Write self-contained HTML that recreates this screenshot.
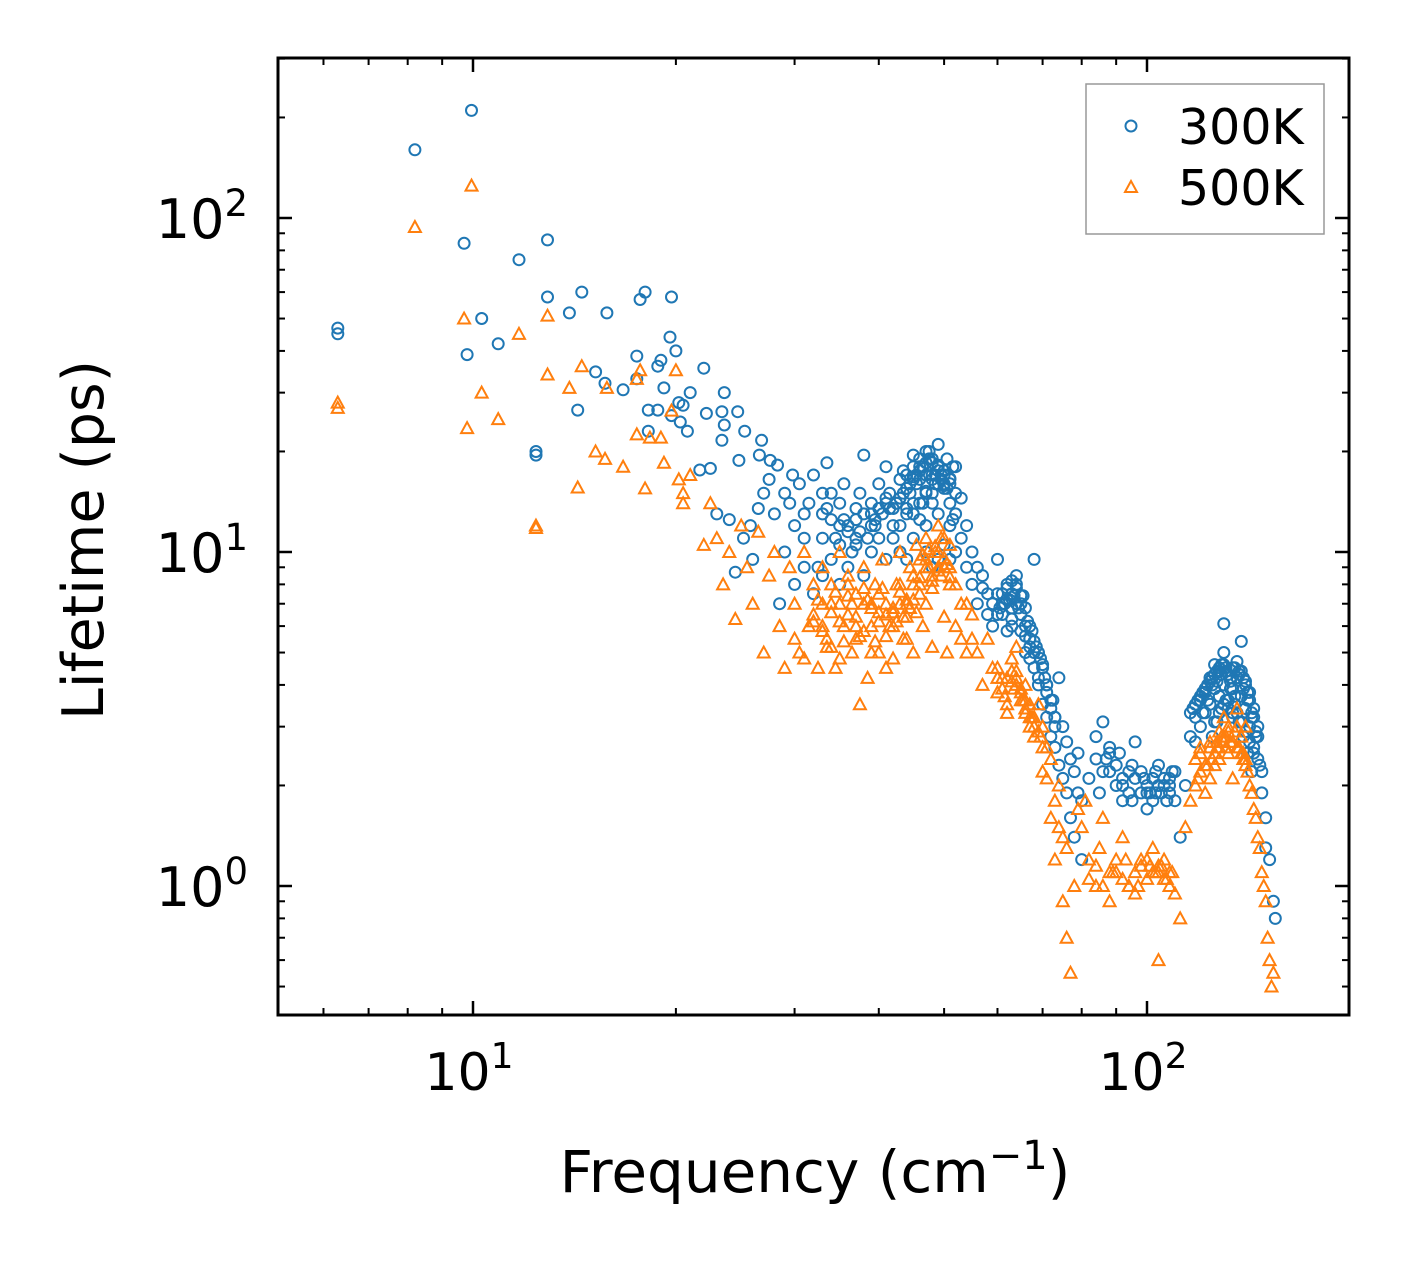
<!DOCTYPE html>
<html><head><meta charset="utf-8"><style>
html,body{margin:0;padding:0;background:#fff;}
svg text{font-family:"DejaVu Sans","Liberation Sans",sans-serif;fill:#000;}
</style></head><body>
<svg id="chart" width="1408" height="1265" viewBox="0 0 1408 1265" xmlns="http://www.w3.org/2000/svg">
<rect x="0" y="0" width="1408" height="1265" fill="#fff"/>
<g id="marks"></g>
<g id="axes"></g>
<rect x="278" y="58" width="1071" height="957" fill="none" stroke="#000" stroke-width="3"/>
<text x="815" y="1192" font-size="58" text-anchor="middle">Frequency (cm<tspan dy="-23" font-size="40">−1</tspan><tspan dy="23">)</tspan></text>
<text x="0" y="0" font-size="57" text-anchor="middle" transform="translate(103,540) rotate(-90)">Lifetime (ps)</text>
<g>
<rect x="1086" y="84" width="238" height="150" fill="#fff" stroke="#999" stroke-width="1.5"/>
<circle cx="1131" cy="126" r="5.5" fill="none" stroke="#1f77b4" stroke-width="2"/>
<text x="1178" y="144" font-size="49">300K</text>
<polygon points="1131,181 1137,192 1125,192" fill="none" stroke="#ff7f0e" stroke-width="2"/>
<text x="1178" y="205" font-size="49">500K</text>
</g>
</svg>
<script>
const xTickValues = [10, 100];
const yTickValues = [1, 10, 100];
const xTickLabels = ["1", "2"];
const yTickLabels = ["0", "1", "2"];
const blueFreq = [6.3,6.3,8.2,9.95,9.7,9.8,10.3,10.9,11.7,12.9,12.9,12.4,12.4,13.9,14.5,14.3,15.8,15.2,15.7,16.7,17.7,18,17.5,17.5,18.2,18.8,18.2,18.8,19,19.2,19.6,19.7,20,19.7,20.2,20.5,21,20.3,20.8,22,22.2,21.7,22.5,23.6,23.4,23.6,23.4,24.7,25.3,24.8,26.6,26.8,27.6,28.3,23,24,24.5,25.2,25.8,26,26.5,27,27.5,28,28.5,29,29.5,29.8,30,30.5,31,31.5,32,32.5,33,33.5,34,34.5,35,35.5,36,36.5,37,37.5,38,38.5,39,39.5,40,40.5,41,41.5,42,42.5,43,43.5,44,44.5,45,45.5,46,46.5,47,47.5,48,48.5,49,49.5,50,50.5,51,51.5,52,53,54,55,56,57,58,59,60,61,62,63,64,65,66,67,68,69,70,71,72,73,74,75,76,77,78,79,80,80,82,84,86,88,90,92,94,96,98,100,102,104,106,108,110,112,114,116,118,120,122,124,126,128,130,130,132,134,136,138,140,142,144,146,148,150,152,154,155,
30,31,32,33,34,35,36,37,38,39,40,41,42,43,44,45,46,47,48,49,50,51,52,53,54,55,56,57,58,59,60,61,62,63,64,65,66,67,68,69,70,71,72,73,74,75,76,77,78,79,85,88,92,95,100,105,108,118,120,122,124,126,128,130,132,134,136,138,140,142,144,146,148,150,45,46,47,48,49,50,44,43,46,48,
29,31,33,35,37,39,41,43,45,47,49,51,61,63,65,67,69,71,73,101,103,107,109,121,123,125,127,129,131,133,135,137,139,141,143,145,147,125,127,129,131,133,135,137,139,141,143,62,63,64,65,66,67,68,44,45,46,47,48,49,50,51,
42,43,44,45,46,47,48,49,50,51,52,42.5,43.5,44.5,45.5,46.5,47.5,48.5,49.5,50.5,51.5,44,46,48,50,52,45,47,49,51,
33,34,35,36,37,38,39,40,41,33.5,35.5,37.5,39.5,41.5,
60,61,62,63,64,65,66,67,68,69,70,71,72,73,60.5,62.5,64.5,66.5,68.5,70.5,72.5,61.5,63.5,65.5,67.5,69.5,
84,86,88,90,92,94,96,98,100,102,104,106,108,110,87,91,95,99,103,107,
116,118,120,122,124,126,128,130,132,134,136,138,140,142,144,146,117,119,121,123,125,127,129,131,133,135,137,139,141,143,145,126,128,130,132,134,136,138,140,142,144];
const blueTau = [46.8,45,160,210,84,39,50,42,75,86,58,20,19.5,52,60,26.6,52,34.6,32,30.6,57,60,38.6,33,26.6,26.6,23,36,37.5,31,44,58,40,25.6,28,27.5,30,24.5,23,35.5,26,17.6,17.8,30,26.3,24,21.6,26.3,23,18.8,19.5,21.6,18.8,18.2,13,12.5,8.7,11,12,9.5,13.5,15,16.5,13,7,10,14,17,12,16,11,14,17,9,13,18.5,15,11,14,16,12,10,13.5,15,19.5,11,14,12.5,16,13,18,15,11,14,16.5,17.5,13,15,18,16,19,14,17,20,18.5,16,21,17,15.5,19,14,18,13,14.5,12,10,9,8.5,7.5,7,9.5,6.5,8,7.5,8.5,7,6,5.5,9.5,5,4.5,4,3.6,3.2,4.2,3,2.7,2.4,2.2,2.5,1.8,1.2,2.1,2.8,3.1,2.5,2,1.8,2.2,2.7,1.9,2,2.1,2.3,2,1.9,1.8,1.4,2,2.8,3.2,3.6,3.8,4.2,4.6,4.4,5,6.1,4.3,3.9,4.7,5.4,4,3.6,3.2,2.8,2.2,1.6,1.2,0.9,0.8,
8,9,7.5,8.5,9.5,8,9,10.5,8.5,10,11,9.5,12,10,9.5,11,12.5,10,9,9.5,10.5,9.5,10,11,9,8,7,7.8,6.5,6,6.5,7.5,5.8,6.3,7,6.5,5,4.8,4.5,4,3.5,3.2,2.8,2.6,2.3,2.1,1.9,1.6,1.4,1.9,1.9,2.2,2.1,1.8,1.7,1.9,2.1,2.7,3,3.3,3.5,3.9,3.7,4,3.6,3.3,4.2,3.7,3.4,3,2.6,2.4,1.9,1.3,14,16.5,15,14,16,17,17,14.5,17.5,16.5,
15,13,15,12,11,13,14,12,13,12,13,12,7,6,5.8,5.5,4.2,3.8,3,1.9,2.2,1.8,2.2,3.3,3.6,4,4.1,4.3,4.5,4.1,3.7,4.4,4.2,3.8,3.3,2.9,2.3,2.8,3.1,3.4,3.6,3.9,3.5,3.1,2.8,2.5,2.2,7.2,6.8,7.8,7.4,5.6,5.2,5.0,15.5,16.8,18,15.2,17,18.2,15.8,16.6,
13.5,14.5,15.5,16.5,17.5,18.5,19,18,17.5,16.5,15,14,15,16,17,18,19,17,16.5,15.5,12.5,13.5,14,15,16,18,19.5,20,17.5,16,
11,12.5,10.5,11.5,12.5,13,12,13.5,14.5,13.5,12.5,11.5,12,13.5,
7.5,7,7.8,8.2,8,7.4,6.8,6,5.4,5,4.6,4,3.4,3.2,6.8,7.2,6.8,6.2,5.2,4.2,3.6,7,7.4,7.4,5.8,4.8,
2.4,2.2,2.6,2.3,2,1.9,2.1,2.2,1.9,1.8,2,2.1,2,2.2,2.4,2.5,2.3,2.1,1.9,1.8,
3.3,3.5,3.7,3.9,4.1,4.3,4.5,4.6,4.3,4.5,4.2,4.4,4.1,3.8,3.4,3,3.4,3.6,3.8,4,4.2,4.4,4.6,4.4,4.2,4.5,4.3,3.9,3.6,3.2,2.8,3.1,3.3,3.5,3.4,3.2,3.3,3.1,2.9,2.7,2.5];
const orangeFreq = [6.3,6.3,8.2,9.95,9.7,9.8,10.3,10.9,11.7,12.9,12.4,12.4,12.9,13.9,14.5,14.3,15.2,15.8,15.7,16.7,17.5,17.5,17.7,18,18.3,19,19.2,19.7,20,20.2,20.5,20.5,21,
22,22.5,23,23.5,24,24.5,25,25.5,26,26.5,27,27.5,28,28.5,29,29.5,30,30.5,31,31.5,32,32.5,33,33.5,34,34.5,35,35.5,36,36.5,37,37.5,38,38.5,39,39.5,40,40.5,41,42,42.5,43,43.5,44,44.5,45,45.5,46,46.5,47,47.5,48,48.5,49,49.5,50,50.5,51,52,53,54,55,56,57,58,59,60,61,62,63,64,65,66,67,68,69,70,71,72,73,74,75,76,77,78,79,80,81,82,84,86,88,90,92,94,96,98,100,102,104,106,108,110,112,104,114,116,118,120,122,124,126,128,130,132,134,136,138,140,142,144,146,148,150,151,152,153,154,
30,31,32,33,34,35,36,37,38,39,40,41,42,43,44,45,46,47,48,49,50,51,52,53,54,55,60,62,64,66,68,70,72,74,76,120,124,128,132,136,140,130,
33,35,37,39,41,43,45,47,49,51,34,36,38,40,42,44,46,48,50,63,64,65,66,67,71,73,75,85,89,93,97,101,103,105,107,109,125,127,129,131,133,135,137,139,141,143,145,147,149,
32,33,34,35,36,37,38,39,40,41,42,43,44,45,46,47,48,49,50,51,32.5,34.5,36.5,38.5,40.5,42.5,44.5,46.5,48.5,50.5,33.5,35.5,37.5,39.5,41.5,43.5,45.5,47.5,49.5,
60,61,62,63,64,65,66,67,68,69,70,61.5,63.5,65.5,67.5,69.5,
82,84,86,88,90,92,94,96,98,100,102,104,106,108,
118,120,122,124,126,128,130,132,134,136,138,140,119,123,127,131,135,139];
const orangeTau = [28,27,94,125,50,23.5,30,25,45,51,12,11.8,34,31,36,15.6,20,31,19,18,33,22.5,35,15.5,22,22,18.5,26.5,35,16.5,15,14,17,
10.5,14,11,8,10,6.3,12,9,7,11.5,5,8.5,10,6,4.5,9,7,5,10,6,8,4.5,9,5.5,7,4.5,10,6,8,5,7.5,3.5,9,4.2,6,8,5,9.5,6.5,4.8,8,10,5.5,7,9,5,10.5,8,6,11,9,5.2,10,12,8.5,11,5,9,6,5.5,7,6.5,5,4,5.5,4.5,3.8,4.2,3.3,4.8,5.2,3.6,4,3,2.8,3.5,2.2,2.6,1.6,1.2,2,0.9,0.7,0.55,1,1.7,1.5,1.8,1.2,1,1.6,0.9,1.1,1.4,1,0.95,1.2,1.05,1.3,1.1,1.2,1,0.95,0.8,0.6,1.5,1.8,2,2.2,1.9,2.6,2.3,2.9,3.2,2.5,2.1,3.4,2.8,2.4,2,1.7,1.4,1.1,0.9,0.7,0.6,0.5,0.55,
5.5,4.8,6.5,7,5.2,4.8,6.5,5.5,7,5,7.5,4.5,6,7,5.5,8,9.5,7,8.5,10,9,10.5,8,7,5,5.5,4.5,4.2,4,3.4,3.2,3,2.4,1.5,1.3,2.6,2.1,2.4,3,2.6,3,2.7,
6,7,6,7,7,8,8.5,9.5,9,8,8,8.5,7.8,6.2,6.6,7.2,7.5,7.8,6.4,4.4,4.2,3.8,3.6,3.2,2.1,1.8,1.4,1.3,1.1,1.2,1,1.15,1.1,1.15,1.05,1.1,2.4,2.7,2.8,2.6,2.7,2.9,2.6,2.4,2.2,1.9,1.6,1.3,1.0,
6.2,5.8,6.6,6.2,7.4,6.4,5.8,6.8,6.6,5.6,6.8,7.6,6.4,7.2,8.4,9,8.2,8.8,9.6,8.4,7.2,7.6,7,7.2,7.8,6.2,6.8,9.8,10.4,9.2,5.2,5.4,5.6,5.4,6,6.4,6.6,10.2,11,
4.2,3.9,3.5,4.1,4.4,3.9,3.3,3.5,3,2.9,2.6,3.7,3.9,3.6,3.2,2.8,
1.05,1.15,1,1.1,1.2,1.05,1,1.1,1.15,1.2,1.1,1.15,1.05,1.1,
2.4,2.5,2.3,2.7,2.5,2.6,2.8,2.9,2.7,3,2.5,2.3,2.1,2.3,2.6,2.8,2.9,2.5];

const X0=278,X1=1349,Y0=58,Y1=1015;
const xLogMin=1-(473-278)/674, decX=674;
const yLogMax=2+(218-58)/334, decY=334;
function xs(v){return X0+(Math.log10(v)-xLogMin)*decX;}
function ys(v){return Y0+(yLogMax-Math.log10(v))*decY;}
const NS="http://www.w3.org/2000/svg";
const marks=document.getElementById('marks');
for(let i=0;i<blueFreq.length;i++){
  const c=document.createElementNS(NS,'circle');
  c.setAttribute('cx',xs(blueFreq[i]).toFixed(1));
  c.setAttribute('cy',ys(blueTau[i]).toFixed(1));
  c.setAttribute('r','5.5');c.setAttribute('fill','none');
  c.setAttribute('stroke','#1f77b4');c.setAttribute('stroke-width','2');
  
  
  marks.appendChild(c);
}
for(let i=0;i<orangeFreq.length;i++){
  const x=xs(orangeFreq[i]),y=ys(orangeTau[i]);
  const p=document.createElementNS(NS,'polygon');
  p.setAttribute('points',`${x},${y-6} ${x+6},${y+5} ${x-6},${y+5}`);
  p.setAttribute('fill','none');p.setAttribute('stroke','#ff7f0e');p.setAttribute('stroke-width','2');
  
  
  marks.appendChild(p);
}
const axes=document.getElementById('axes');
function line(x1,y1,x2,y2,w,name){
  const l=document.createElementNS(NS,'line');
  l.setAttribute('x1',x1);l.setAttribute('y1',y1);l.setAttribute('x2',x2);l.setAttribute('y2',y2);
  l.setAttribute('stroke','#000');l.setAttribute('stroke-width',w);
  
  
  axes.appendChild(l);
}
for(let d=1;d<=100;d*=10){for(let m=1;m<=9;m++){const v=d*m;const x=xs(v);if(x<X0-0.5||x>X1+0.5)continue;
  const L=(m===1)?14:7;const w=(m===1)?2.5:2;
  line(x,Y1,x,Y1-L,w,'x-tick');line(x,Y0,x,Y0+L,w,'x-tick-top');}}
for(let d=0.1;d<=100;d*=10){for(let m=1;m<=9;m++){const v=d*m;const y=ys(v);if(y<Y0-1||y>Y1+0.5)continue;
  const L=(m===1)?14:7;const w=(m===1)?2.5:2;
  line(X0,y,X0+L,y,w,'y-tick');line(X1,y,X1-L,y,w,'y-tick-right');}}
xTickValues.forEach((v,i)=>{
  const t=document.createElementNS(NS,'text');
  t.setAttribute('x',xs(v)-4);t.setAttribute('y',1090);t.setAttribute('font-size','52');t.setAttribute('text-anchor','middle');
  t.innerHTML=`10<tspan dy="-22" font-size="36">${xTickLabels[i]}</tspan>`;
  
  
  axes.appendChild(t);
});
yTickValues.forEach((v,i)=>{
  const t=document.createElementNS(NS,'text');
  t.setAttribute('x',248);t.setAttribute('y',ys(v)+20);t.setAttribute('font-size','54');t.setAttribute('text-anchor','end');
  t.innerHTML=`10<tspan dy="-22" font-size="37">${yTickLabels[i]}</tspan>`;
  
  
  axes.appendChild(t);
});
</script>
</body></html>
